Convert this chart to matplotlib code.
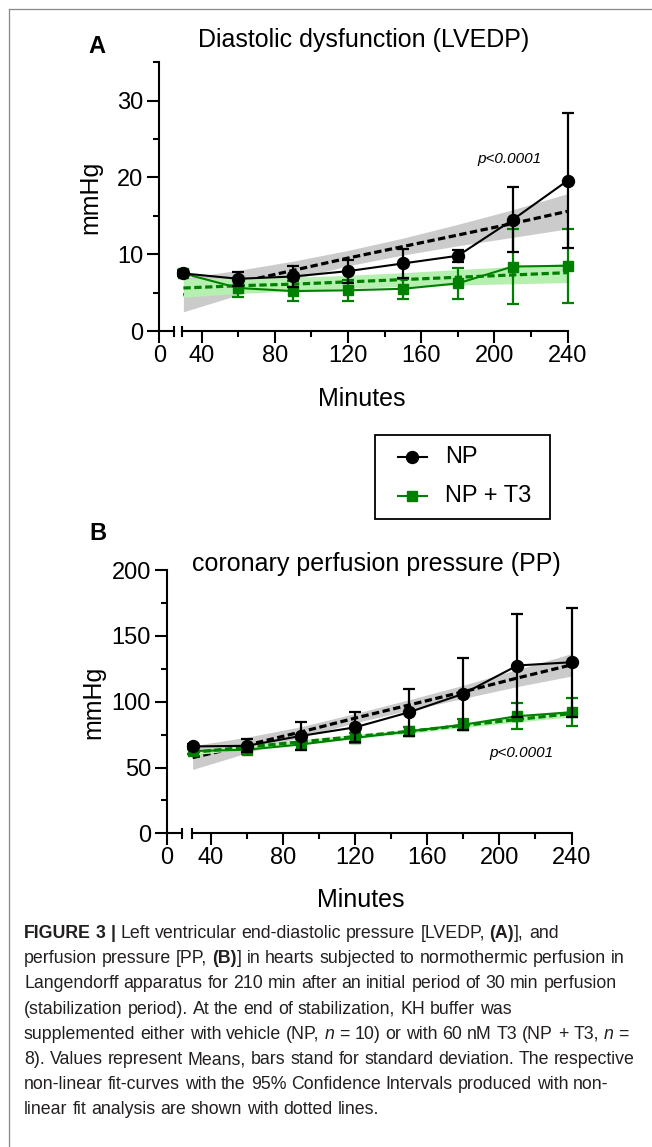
import re
import numpy as np
import matplotlib
matplotlib.use('Agg')
import matplotlib.pyplot as plt
from matplotlib.lines import Line2D
from matplotlib.patches import Rectangle

plt.rcParams['font.family'] = ['Liberation Sans', 'DejaVu Sans']

# DATA
minutes = [30, 60, 90, 120, 150, 180, 210, 240]

# (A) LVEDP, mmHg
lvedp_np = [7.5, 6.8, 7.1, 7.8, 8.8, 9.8, 14.5, 19.6]
lvedp_np_sd = [0.3, 0.9, 1.35, 1.5, 1.9, 0.8, 4.2, 8.8]
lvedp_t3 = [7.5, 5.6, 5.2, 5.3, 5.5, 6.2, 8.4, 8.5]
lvedp_t3_sd = [0.4, 1.2, 1.3, 1.4, 1.3, 2.0, 4.9, 4.8]
lvedp_np_fit = [4.7, 6.3, 7.9, 9.5, 11.0, 12.5, 14.0, 15.6]
lvedp_np_lo = [2.5, 4.7, 6.7, 8.5, 9.9, 11.1, 12.2, 13.3]
lvedp_np_hi = [6.9, 7.9, 9.1, 10.5, 12.1, 13.9, 15.8, 17.9]
lvedp_t3_fit = [5.6, 5.9, 6.1, 6.4, 6.7, 7.0, 7.3, 7.6]
lvedp_t3_lo = [4.4, 4.9, 5.2, 5.55, 5.8, 6.0, 6.15, 6.3]
lvedp_t3_hi = [6.8, 6.9, 7.0, 7.25, 7.6, 8.0, 8.4, 8.8]

# (B) coronary perfusion pressure, mmHg
pp_np = [66, 66.5, 74, 80.5, 92, 106, 127.5, 130]
pp_np_sd = [2, 5, 10.5, 11.5, 18, 27.5, 39.5, 41.5]
pp_t3 = [62.5, 63.5, 67.5, 72.5, 77.5, 82.5, 89, 92]
pp_t3_sd = [2, 3, 4, 4, 3.5, 4, 10, 10.5]
pp_np_fit = [57.5, 67, 77, 87.5, 97.5, 107.5, 118, 128]
pp_np_lo = [48.5, 61, 73, 84, 93.5, 102.5, 111.5, 119.5]
pp_np_hi = [66.5, 73, 81, 91, 101.5, 112.5, 124.5, 136.5]
pp_t3_fit = [61.5, 65.5, 69.5, 73.5, 77.5, 82, 86.5, 91]
pp_t3_lo = [59.5, 64, 68, 72, 76, 80.3, 84.5, 88.5]
pp_t3_hi = [63.5, 67, 71, 75, 79, 83.7, 88.5, 93.5]

x_major = [40, 80, 120, 160, 200, 240]
x_minor = [60, 100, 140, 180, 220]
series_labels = ['NP', 'NP + T3']

caption = [
    [("FIGURE 3 |", 'b'), (" Left ventricular end-diastolic pressure [LVEDP, ", 'r'), ("(A)", 'b'), ("], and", 'r')],
    [("perfusion pressure [PP, ", 'r'), ("(B)", 'b'), ("] in hearts subjected to normothermic perfusion in", 'r')],
    [("Langendorff apparatus for 210 min after an initial period of 30 min perfusion", 'r')],
    [("(stabilization period). At the end of stabilization, KH buffer was", 'r')],
    [("supplemented either with vehicle (NP, ", 'r'), ("n", 'i'), (" = 10) or with 60 nM T3 (NP + T3, ", 'r'),
     ("n", 'i'), (" =", 'r')],
    [("8). Values represent Means, bars stand for standard deviation. The respective", 'r')],
    [("non-linear fit-curves with the 95% Confidence Intervals produced with non-", 'r')],
    [("linear fit analysis are shown with dotted lines.", 'r')],
]

# STYLE
W, H, DPI = 652, 1147, 100
GREEN = '#008000'
GRAYBAND = '#cbcbcb'
GREENBAND = '#b6f0b0'
DASH = (0, (2.3, 1.1))
TICK_FS = 17
LAB_FS = 18

fig = plt.figure(figsize=(W / DPI, H / DPI), dpi=DPI)
rend = fig.canvas.get_renderer()


def fr(x0, y0, x1, y1):
    # pixel box (origin top-left) -> figure rect
    return [x0 / W, 1 - y1 / H, (x1 - x0) / W, (y1 - y0) / H]


def fx(px):
    return px / W


def fy(py):
    return 1 - py / H


def panel(stub_box, main_box, x_start, ymax, ymaj, ymin_, np_m, np_s, t3_m, t3_s,
          np_fit, np_lo, np_hi, t3_fit, t3_lo, t3_hi):
    axs = fig.add_axes(fr(*stub_box))
    ax = fig.add_axes(fr(*main_box))
    for a in (axs, ax):
        a.set_ylim(0, ymax)
        a.patch.set_alpha(0)
        for s in ('top', 'right'):
            a.spines[s].set_visible(False)
        a.spines['bottom'].set_linewidth(1.5)
        a.spines['left'].set_linewidth(1.5)
        a.tick_params(which='major', length=8.3, width=1.5, labelsize=TICK_FS)
        a.tick_params(which='minor', length=4.3, width=1.5)
        a.tick_params(axis='x', pad=1.7)
        a.tick_params(axis='y', pad=3)
    # stub with y axis and the "0" tick
    axs.set_xlim(0, 8)
    axs.set_xticks([0])
    axs.set_xticklabels(['0'])
    axs.set_yticks(ymaj)
    axs.set_yticks(ymin_, minor=True)
    axs.set_yticklabels([str(v) for v in ymaj])
    # main axis
    ax.spines['left'].set_visible(False)
    ax.set_xlim(x_start, 240)
    ax.set_xticks(x_major)
    ax.set_xticks(x_minor, minor=True)
    ax.set_xticklabels([str(v) for v in x_major])
    ax.set_yticks([])
    # axis break marks
    d = 4.5 / (main_box[3] - main_box[1])
    axs.plot([1, 1], [-d, d], transform=axs.transAxes, color='black', lw=1.5, clip_on=False)
    ax.plot([0, 0], [-d, d], transform=ax.transAxes, color='black', lw=1.5, clip_on=False)

    # fits with confidence bands
    ax.fill_between(minutes, np_lo, np_hi, color=GRAYBAND, lw=0, zorder=1)
    ax.plot(minutes, np_fit, color='black', lw=2.3, ls=DASH, zorder=2)
    ax.fill_between(minutes, t3_lo, t3_hi, color=GREENBAND, lw=0, zorder=3)
    ax.plot(minutes, t3_fit, color=GREEN, lw=2.3, ls=DASH, zorder=4)
    # means +/- SD
    for m, s, col, mk, ms, z in ((t3_m, t3_s, GREEN, 's', 7.6, 5), (np_m, np_s, 'black', 'o', 8.6, 6)):
        cont = ax.errorbar(minutes, m, yerr=s, color=col, marker=mk, ms=ms, lw=1.5,
                           elinewidth=1.6, capsize=4, capthick=1.6, zorder=z)
        for art in cont.get_children():
            art.set_clip_on(False)
    return ax


axA = panel((159.3, 62.3, 174.3, 331), (182.3, 62.3, 567.7, 331), 29.4, 35,
            [0, 10, 20, 30], [5, 15, 25, 35],
            lvedp_np, lvedp_np_sd, lvedp_t3, lvedp_t3_sd,
            lvedp_np_fit, lvedp_np_lo, lvedp_np_hi, lvedp_t3_fit, lvedp_t3_lo, lvedp_t3_hi)
axA.text(208, 22.4, 'p<0.0001', fontsize=11, style='italic', ha='center', va='center')

axB = panel((166.7, 570.1, 181.5, 833.3), (191.7, 570.1, 571.5, 833.3), 29.5, 200,
            [0, 50, 100, 150, 200], [25, 75, 125, 175],
            pp_np, pp_np_sd, pp_t3, pp_t3_sd,
            pp_np_fit, pp_np_lo, pp_np_hi, pp_t3_fit, pp_t3_lo, pp_t3_hi)
axB.text(212, 60.8, 'p<0.0001', fontsize=11, style='italic', ha='center', va='center')

# panel texts
fig.text(fx(88.5), fy(53.3), 'A', fontsize=17, fontweight='bold', ha='left', va='baseline')
fig.text(fx(364), fy(47), 'Diastolic dysfunction (LVEDP)', fontsize=LAB_FS, ha='center', va='baseline')
fig.text(fx(90.8), fy(197), 'mmHg', fontsize=LAB_FS, rotation=90, ha='center', va='center')
fig.text(fx(362), fy(405.5), 'Minutes', fontsize=LAB_FS, ha='center', va='baseline')

fig.text(fx(89), fy(540), 'B', fontsize=17, fontweight='bold', ha='left', va='baseline')
fig.text(fx(376), fy(571), 'coronary perfusion pressure (PP)', fontsize=LAB_FS, ha='center', va='baseline')
fig.text(fx(93), fy(702), 'mmHg', fontsize=LAB_FS, rotation=90, ha='center', va='center')
fig.text(fx(361), fy(907), 'Minutes', fontsize=LAB_FS, ha='center', va='baseline')

# legend
fig.add_artist(Rectangle((fx(375), fy(519)), fx(175), 84 / H, transform=fig.transFigure,
                         fill=False, edgecolor='black', lw=1.3))
for lab, col, mk, ms, yy in ((series_labels[0], 'black', 'o', 8.6, 456.7),
                             (series_labels[1], GREEN, 's', 7.6, 496)):
    fig.add_artist(Line2D([fx(398), fx(412.5), fx(427)], [fy(yy)] * 3, transform=fig.transFigure,
                          color=col, lw=1.5, marker=mk, ms=ms, markevery=[1]))
    fig.text(fx(445), fy(yy), lab, fontsize=TICK_FS, ha='left', va='center')

# frame lines
fig.add_artist(Line2D([fx(9.3), fx(9.3)], [0, fy(9)], transform=fig.transFigure, color='#888888', lw=0.9))
fig.add_artist(Line2D([fx(9.3), 1], [fy(9), fy(9)], transform=fig.transFigure, color='#888888', lw=0.9))


# caption
def text_w(s, size, weight='normal', style='normal'):
    t = fig.text(0, 0, s, fontsize=size, fontweight=weight, fontstyle=style)
    w = t.get_window_extent(renderer=rend).width
    t.remove()
    return w


w10 = text_w('perfusion pressure [PP, (B)] in hearts subjected to normothermic perfusion in', 10)
cap_fs = 10 * 603 / w10
sp = text_w('a a', cap_fs) - text_w('aa', cap_fs)
styles = {'r': ('normal', 'normal'), 'b': ('bold', 'normal'), 'i': ('normal', 'italic')}
CAP_COL = '#231f20'
base = 938
for line in caption:
    x = 24.0
    for seg, st in line:
        wt, sty = styles[st]
        for tok in re.split(r'( )', seg):
            if tok == '':
                continue
            if tok == ' ':
                x += sp
                continue
            fig.text(fx(x), fy(base), tok, fontsize=cap_fs, fontweight=wt, fontstyle=sty,
                     color=CAP_COL, ha='left', va='baseline')
            x += text_w(tok, cap_fs, wt, sty)
    base += 25.2

fig.savefig('out.png', dpi=DPI)
